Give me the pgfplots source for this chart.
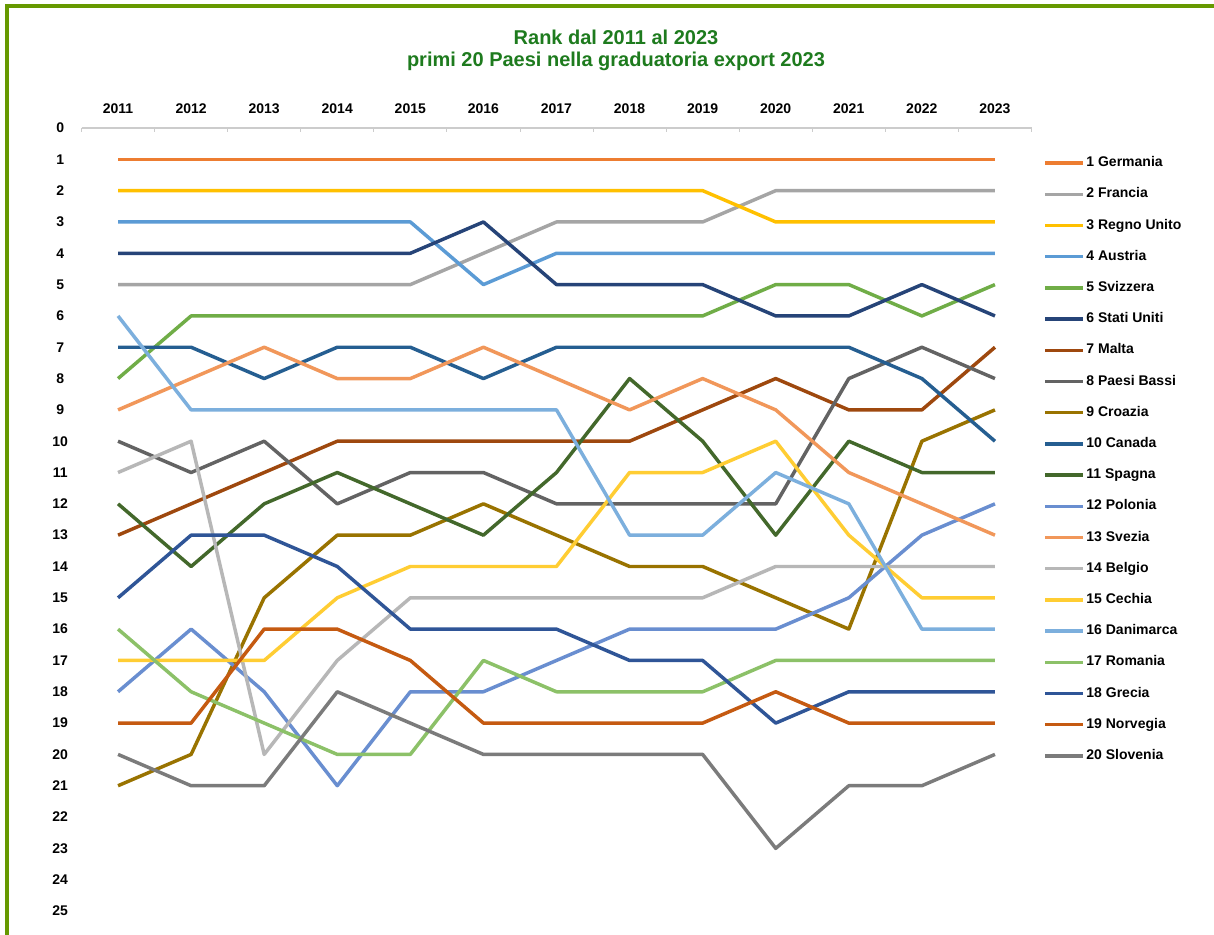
\documentclass[border=0pt]{standalone}
\usepackage{pgfplots}
\usepackage{pgfplotstable}
\pgfplotsset{compat=1.18}
\usepackage{fontspec}
\setmainfont{Liberation Sans}
\definecolor{c1}{HTML}{ED7D31}
\definecolor{c2}{HTML}{A5A5A5}
\definecolor{c3}{HTML}{FFC000}
\definecolor{c4}{HTML}{5B9BD5}
\definecolor{c5}{HTML}{70AD47}
\definecolor{c6}{HTML}{264478}
\definecolor{c7}{HTML}{9E480E}
\definecolor{c8}{HTML}{636363}
\definecolor{c9}{HTML}{997300}
\definecolor{c10}{HTML}{255E91}
\definecolor{c11}{HTML}{43682B}
\definecolor{c12}{HTML}{698ED0}
\definecolor{c13}{HTML}{F1975A}
\definecolor{c14}{HTML}{B7B7B7}
\definecolor{c15}{HTML}{FFCD33}
\definecolor{c16}{HTML}{7CAFDD}
\definecolor{c17}{HTML}{8CC168}
\definecolor{c18}{HTML}{2F5597}
\definecolor{c19}{HTML}{C55A11}
\definecolor{c20}{HTML}{7B7B7B}
\definecolor{frame}{HTML}{669900}
\definecolor{titlegreen}{HTML}{1E7B1E}
\pgfplotstableread{
year Ge Fr RU Au Sv SU Ma PB Cr Ca Sp Po Se Be Ce Da Ro Gr No Sl
2011 1 5 2 3 8 4 13 10 21 7 12 18 9 11 17 6 16 15 19 20
2012 1 5 2 3 6 4 12 11 20 7 14 16 8 10 17 9 18 13 19 21
2013 1 5 2 3 6 4 11 10 15 8 12 18 7 20 17 9 19 13 16 21
2014 1 5 2 3 6 4 10 12 13 7 11 21 8 17 15 9 20 14 16 18
2015 1 5 2 3 6 4 10 11 13 7 12 18 8 15 14 9 20 16 17 19
2016 1 4 2 5 6 3 10 11 12 8 13 18 7 15 14 9 17 16 19 20
2017 1 3 2 4 6 5 10 12 13 7 11 17 8 15 14 9 18 16 19 20
2018 1 3 2 4 6 5 10 12 14 7 8 16 9 15 11 13 18 17 19 20
2019 1 3 2 4 6 5 9 12 14 7 10 16 8 15 11 13 18 17 19 20
2020 1 2 3 4 5 6 8 12 15 7 13 16 9 14 10 11 17 19 18 23
2021 1 2 3 4 5 6 9 8 16 7 10 15 11 14 13 12 17 18 19 21
2022 1 2 3 4 6 5 9 7 10 8 11 13 12 14 15 16 17 18 19 21
2023 1 2 3 4 5 6 7 8 9 10 11 12 13 14 15 16 17 18 19 20
}\ranks
\begin{document}
\begin{tikzpicture}
\useasboundingbox (0pt,0pt) rectangle (910.5pt,701.25pt);
\fill[white] (0pt,0pt) rectangle (910.5pt,701.25pt);
\fill[frame] (3.75pt,0pt) rectangle (6.75pt,698.25pt);
\fill[frame] (3.75pt,695.25pt) rectangle (910.5pt,698.25pt);
\node[align=center, font=\fontsize{15}{17}\selectfont\bfseries, text=titlegreen] at (462pt,663.5pt)
  {Rank dal 2011 al 2023\\primi 20 Paesi nella graduatoria export 2023};
\begin{axis}[
  at={(61.125pt,18pt)}, anchor=south west,
  scale only axis, width=712.5pt, height=587.25pt,
  xmin=2010.5, xmax=2023.5, ymin=0, ymax=25,
  y dir=reverse,
  axis line style={draw=none},
  xtick={2011,...,2023},
  minor xtick={2010.5,2011.5,...,2023.5},
  xtick pos=upper, xticklabel pos=upper,
  ytick={0,...,25}, ytick pos=left,
  major tick length=0pt,
  minor tick length=3pt,
  minor tick style={draw=gray!40, line width=0.6pt},
  /pgf/number format/assume math mode=true,
  xticklabel={\pgfmathprintnumber[1000 sep={}]{\tick}},
  xticklabel style={font=\fontsize{10.5}{12}\selectfont\bfseries, yshift=7.5pt},
  yticklabel style={font=\fontsize{10.5}{12}\selectfont\bfseries, anchor=center, xshift=-16pt},
  legend style={at={(axis description cs:1.0080,0.9670)}, anchor=north west, draw=none, fill=none,
    font=\fontsize{10.5}{12}\selectfont\bfseries, row sep=13.9pt,
    nodes={text height=7.5pt, text depth=2pt, inner ysep=0pt, inner xsep=1.2pt}},
  legend cell align=left,
  legend image code/.code={\draw[#1] (0pt,0pt) -- (28.5pt,0pt);},
  every axis plot/.append style={line width=2.6pt, line join=round, no marks},
  clip=false,
]
\draw[gray!40, line width=0.8pt] (axis cs:2010.5,0) -- (axis cs:2023.5,0);
\addplot[c1] table[x=year,y=Ge]{\ranks}; \addlegendentry{1 Germania}
\addplot[c2] table[x=year,y=Fr]{\ranks}; \addlegendentry{2 Francia}
\addplot[c3] table[x=year,y=RU]{\ranks}; \addlegendentry{3 Regno Unito}
\addplot[c4] table[x=year,y=Au]{\ranks}; \addlegendentry{4 Austria}
\addplot[c5] table[x=year,y=Sv]{\ranks}; \addlegendentry{5 Svizzera}
\addplot[c6] table[x=year,y=SU]{\ranks}; \addlegendentry{6 Stati Uniti}
\addplot[c7] table[x=year,y=Ma]{\ranks}; \addlegendentry{7 Malta}
\addplot[c8] table[x=year,y=PB]{\ranks}; \addlegendentry{8 Paesi Bassi}
\addplot[c9] table[x=year,y=Cr]{\ranks}; \addlegendentry{9 Croazia}
\addplot[c10] table[x=year,y=Ca]{\ranks}; \addlegendentry{10 Canada}
\addplot[c11] table[x=year,y=Sp]{\ranks}; \addlegendentry{11 Spagna}
\addplot[c12] table[x=year,y=Po]{\ranks}; \addlegendentry{12 Polonia}
\addplot[c13] table[x=year,y=Se]{\ranks}; \addlegendentry{13 Svezia}
\addplot[c14] table[x=year,y=Be]{\ranks}; \addlegendentry{14 Belgio}
\addplot[c15] table[x=year,y=Ce]{\ranks}; \addlegendentry{15 Cechia}
\addplot[c16] table[x=year,y=Da]{\ranks}; \addlegendentry{16 Danimarca}
\addplot[c17] table[x=year,y=Ro]{\ranks}; \addlegendentry{17 Romania}
\addplot[c18] table[x=year,y=Gr]{\ranks}; \addlegendentry{18 Grecia}
\addplot[c19] table[x=year,y=No]{\ranks}; \addlegendentry{19 Norvegia}
\addplot[c20] table[x=year,y=Sl]{\ranks}; \addlegendentry{20 Slovenia}
\end{axis}
\end{tikzpicture}
\end{document}
